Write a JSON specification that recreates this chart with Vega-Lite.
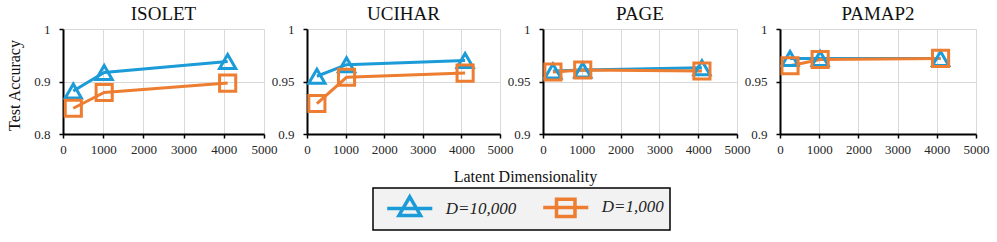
{
  "$schema": "https://vega.github.io/schema/vega-lite/v6.json",
  "padding": 5,
  "background": "white",
  "data": {
    "values": [
      {"ds": "ISOLET", "D": "D=10,000", "dim": 256, "acc": 0.882},
      {"ds": "ISOLET", "D": "D=10,000", "dim": 1024, "acc": 0.917},
      {"ds": "ISOLET", "D": "D=10,000", "dim": 4096, "acc": 0.938},
      {"ds": "UCIHAR", "D": "D=10,000", "dim": 256, "acc": 0.955},
      {"ds": "UCIHAR", "D": "D=10,000", "dim": 1024, "acc": 0.966},
      {"ds": "UCIHAR", "D": "D=10,000", "dim": 4096, "acc": 0.970},
      {"ds": "PAGE", "D": "D=10,000", "dim": 256, "acc": 0.960},
      {"ds": "PAGE", "D": "D=10,000", "dim": 1024, "acc": 0.961},
      {"ds": "PAGE", "D": "D=10,000", "dim": 4096, "acc": 0.963},
      {"ds": "PAMAP2", "D": "D=10,000", "dim": 256, "acc": 0.972},
      {"ds": "PAMAP2", "D": "D=10,000", "dim": 1024, "acc": 0.972},
      {"ds": "PAMAP2", "D": "D=10,000", "dim": 4096, "acc": 0.972},
      {"ds": "ISOLET", "D": "D=1,000", "dim": 256, "acc": 0.849},
      {"ds": "ISOLET", "D": "D=1,000", "dim": 1024, "acc": 0.879},
      {"ds": "ISOLET", "D": "D=1,000", "dim": 4096, "acc": 0.897},
      {"ds": "UCIHAR", "D": "D=1,000", "dim": 256, "acc": 0.929},
      {"ds": "UCIHAR", "D": "D=1,000", "dim": 1024, "acc": 0.954},
      {"ds": "UCIHAR", "D": "D=1,000", "dim": 4096, "acc": 0.958},
      {"ds": "PAGE", "D": "D=1,000", "dim": 256, "acc": 0.959},
      {"ds": "PAGE", "D": "D=1,000", "dim": 1024, "acc": 0.961},
      {"ds": "PAGE", "D": "D=1,000", "dim": 4096, "acc": 0.960},
      {"ds": "PAMAP2", "D": "D=1,000", "dim": 256, "acc": 0.965},
      {"ds": "PAMAP2", "D": "D=1,000", "dim": 1024, "acc": 0.971},
      {"ds": "PAMAP2", "D": "D=1,000", "dim": 4096, "acc": 0.972}
    ]
  },
  "spacing": 43,
  "bounds": "flush",
  "resolve": {"scale": {"color": "shared"}},
  "hconcat": [
    {
      "width": 201, "height": 105,
      "title": "ISOLET",
      "transform": [{"filter": "datum.ds === 'ISOLET'"}],
      "encoding": {
        "x": {"field": "dim", "type": "quantitative", "scale": {"domain": [0, 5000], "nice": false},
              "axis": {"values": [0, 1000, 2000, 3000, 4000, 5000], "format": "d", "title": null, "labelFont": "Liberation Serif"}},
        "y": {"field": "acc", "type": "quantitative", "scale": {"domain": [0.8, 1], "zero": false, "nice": false},
              "axis": {"values": [0.8, 0.9, 1], "format": "~g", "labelFont": "Liberation Serif", "title": "Test Accuracy", "titleX": -44, "titleY": 56, "titleAngle": -90, "titleAlign": "center", "titleBaseline": "alphabetic"}},
        "color": {"field": "D", "type": "nominal", "scale": {"domain": ["D=10,000", "D=1,000"], "range": ["#1b9bd7", "#ed7d31"]},
           "legend": {"orient": "none", "legendX": 310, "legendY": 159, "direction": "horizontal", "title": null,
             "symbolType": "M-2.05,0H2.05M0,-1.07L0.98,0.62L-0.98,0.62Z",
             "symbolSize": 484, "symbolStrokeWidth": 3.5, "symbolFillColor": "transparent", "symbolOffset": 17.75,
             "labelFont": "Liberation Serif", "labelFontStyle": "italic", "labelFontSize": 17, "labelColor": "#222",
             "labelOffset": 23, "columnPadding": 18, "padding": 6, "gridAlign": "all",
             "fillColor": "#f2f2f2", "strokeColor": "#000", "cornerRadius": 0,
             "encode": {
               "legend": {"update": {"strokeWidth": {"value": 1.5}}},
               "symbols": {"update": {
               "shape": {"signal": "datum.value === 'D=10,000' ? 'M-2.05,0H2.05M0,-1.07L0.98,0.62L-0.98,0.62Z' : 'M-2.05,0H2.05M-0.84,-0.75H0.84V0.84H-0.84Z'"},
               "fill": {"value": "transparent"},
               "size": {"value": 484},
               "strokeWidth": {"value": 3.5},
               "opacity": {"value": 1}
             }}}}}
      },
      "layer": [
        {"mark": {"type": "line", "strokeWidth": 3}},
        {"transform": [{"filter": "datum.D === 'D=10,000'"}], "mark": {"type": "point", "shape": "triangle-up", "filled": false, "strokeWidth": 3, "size": 260, "opacity": 1}},
        {"transform": [{"filter": "datum.D === 'D=1,000'"}], "mark": {"type": "point", "shape": "square", "filled": false, "strokeWidth": 3, "size": 260, "opacity": 1}}
      ]
    },
    {
      "width": 193, "height": 105,
      "title": "UCIHAR",
      "transform": [{"filter": "datum.ds === 'UCIHAR'"}],
      "encoding": {
        "x": {"field": "dim", "type": "quantitative", "scale": {"domain": [0, 5000], "nice": false},
              "axis": {"values": [0, 1000, 2000, 3000, 4000, 5000], "format": "d", "labelFont": "Liberation Serif", "title": "Latent Dimensionality", "titleX": 218, "titleY": 47, "titleAlign": "center", "titleBaseline": "alphabetic"}},
        "y": {"field": "acc", "type": "quantitative", "scale": {"domain": [0.9, 1], "zero": false, "nice": false},
              "axis": {"values": [0.9, 0.95, 1], "format": "~g", "labelFont": "Liberation Serif", "title": null}},
        "color": {"field": "D", "type": "nominal"}
      },
      "layer": [
        {"mark": {"type": "line", "strokeWidth": 3}},
        {"transform": [{"filter": "datum.D === 'D=10,000'"}], "mark": {"type": "point", "shape": "triangle-up", "filled": false, "strokeWidth": 3, "size": 260, "opacity": 1}},
        {"transform": [{"filter": "datum.D === 'D=1,000'"}], "mark": {"type": "point", "shape": "square", "filled": false, "strokeWidth": 3, "size": 260, "opacity": 1}}
      ]
    },
    {
      "width": 194, "height": 105,
      "title": "PAGE",
      "transform": [{"filter": "datum.ds === 'PAGE'"}],
      "encoding": {
        "x": {"field": "dim", "type": "quantitative", "scale": {"domain": [0, 5000], "nice": false},
              "axis": {"values": [0, 1000, 2000, 3000, 4000, 5000], "format": "d", "labelFont": "Liberation Serif", "title": null}},
        "y": {"field": "acc", "type": "quantitative", "scale": {"domain": [0.9, 1], "zero": false, "nice": false},
              "axis": {"values": [0.9, 0.95, 1], "format": "~g", "labelFont": "Liberation Serif", "title": null}},
        "color": {"field": "D", "type": "nominal"}
      },
      "layer": [
        {"mark": {"type": "line", "strokeWidth": 3}},
        {"transform": [{"filter": "datum.D === 'D=10,000'"}], "mark": {"type": "point", "shape": "triangle-up", "filled": false, "strokeWidth": 3, "size": 260, "opacity": 1}},
        {"transform": [{"filter": "datum.D === 'D=1,000'"}], "mark": {"type": "point", "shape": "square", "filled": false, "strokeWidth": 3, "size": 260, "opacity": 1}}
      ]
    },
    {
      "width": 196, "height": 105,
      "title": "PAMAP2",
      "transform": [{"filter": "datum.ds === 'PAMAP2'"}],
      "encoding": {
        "x": {"field": "dim", "type": "quantitative", "scale": {"domain": [0, 5000], "nice": false},
              "axis": {"values": [0, 1000, 2000, 3000, 4000, 5000], "format": "d", "labelFont": "Liberation Serif", "title": null}},
        "y": {"field": "acc", "type": "quantitative", "scale": {"domain": [0.9, 1], "zero": false, "nice": false},
              "axis": {"values": [0.9, 0.95, 1], "format": "~g", "labelFont": "Liberation Serif", "title": null}},
        "color": {"field": "D", "type": "nominal"}
      },
      "layer": [
        {"mark": {"type": "line", "strokeWidth": 3}},
        {"transform": [{"filter": "datum.D === 'D=10,000'"}], "mark": {"type": "point", "shape": "triangle-up", "filled": false, "strokeWidth": 3, "size": 260, "opacity": 1}},
        {"transform": [{"filter": "datum.D === 'D=1,000'"}], "mark": {"type": "point", "shape": "square", "filled": false, "strokeWidth": 3, "size": 260, "opacity": 1}}
      ]
    }
  ],
  "config": {
    "font": "Liberation Serif",
    "view": {"stroke": null},
    "style": {"guide-label": {"font": "Liberation Serif"}, "guide-title": {"font": "Liberation Serif"}},
    "axis": {
      "domainColor": "#000", "domainWidth": 2, "tickColor": "#000", "tickWidth": 1.5, "tickSize": 4,
      "gridColor": "#d9d9d9", "gridWidth": 1, "labelOverlap": false, "labelFlush": false,
      "labelFont": "Liberation Serif", "labelFontSize": 13, "labelColor": "#262626",
      "titleFont": "Liberation Serif", "titleFontSize": 16, "titleFontWeight": "normal", "titleColor": "#111"
    },
    "axisX": {"labelPadding": 5},
    "axisY": {"labelPadding": 9},
    "title": {"font": "Liberation Serif", "fontSize": 19, "fontWeight": "normal", "color": "#111", "offset": -1, "baseline": "alphabetic", "frame": "group"}
  }
}
